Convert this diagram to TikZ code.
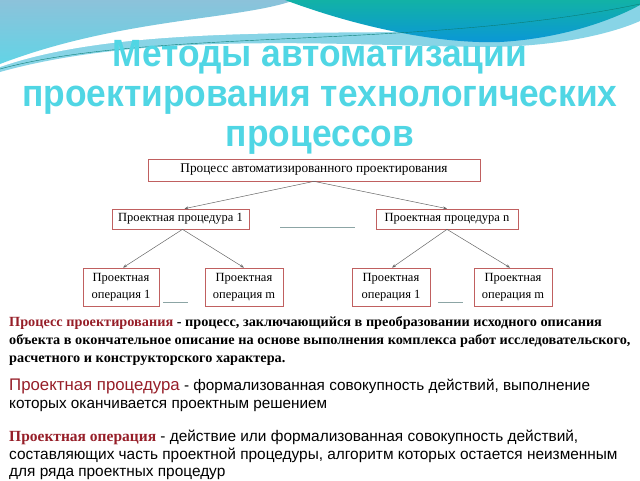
\documentclass[tikz,border=0pt]{standalone}
\usepackage{fontspec}
\setmainfont{Liberation Serif}
\newfontfamily\arial{Liberation Sans}
\newfontfamily\titlefont[FakeStretch=0.93]{Liberation Sans}
\newfontfamily\serifN[FakeStretch=1.02]{Liberation Serif}
\usetikzlibrary{shadows,arrows.meta}
\definecolor{titlecyan}{RGB}{80,214,228}
\definecolor{skytop}{RGB}{140,194,218}
\definecolor{skybot}{RGB}{98,212,230}
\definecolor{bandblue}{RGB}{136,212,230}
\definecolor{tealA}{RGB}{18,178,166}
\definecolor{tealB}{RGB}{10,150,216}
\definecolor{boxred}{RGB}{192,96,96}
\definecolor{termred}{RGB}{150,30,40}
\definecolor{sepgray}{RGB}{140,165,165}
\tikzset{
  box/.style={draw=boxred, line width=0.7pt, fill=white, inner sep=0pt,
    font=\fontsize{12.5}{16.5}\selectfont, align=center,
    drop shadow={opacity=0.25, shadow xshift=1.2pt, shadow yshift=-1.2pt}},
  link/.style={draw=gray!80!black, line width=0.5pt, -{Stealth[length=4pt,width=3pt]}},
  sep/.style={draw=sepgray, line width=0.9pt},
  para/.style={anchor=north west, inner sep=0pt, align=left}
}
\begin{document}
\begin{tikzpicture}[x=1pt,y=-1pt]
\useasboundingbox (0,0) rectangle (640,480);
% background waves
\fill[bandblue] (0,72) .. controls (150,30) and (350,46) .. (490,47) .. controls (570,46) and (620,30) .. (640,21) -- (640,0) -- (0,0) -- cycle;
\fill[white] (0,67) .. controls (100,32) and (250,33) .. (420,32) .. controls (460,33) and (480,38) .. (500,42) -- (500,0) -- (0,0) -- cycle;
\shade[top color=skytop, bottom color=skybot] (0,0) -- (295,0) .. controls (240,20) and (120,18) .. (0,64) -- cycle;
\shade[top color=tealA, bottom color=tealB] (285,0) .. controls (360,28) and (440,44) .. (500,42) .. controls (570,38) and (620,16) .. (640,5) -- (640,0) -- cycle;
\draw[tealA!70!black, line width=0.4pt] (0,69) .. controls (150,28) and (420,50) .. (640,4);
% title
\node[font=\titlefont\bfseries\fontsize{38}{40}\selectfont, text=titlecyan, align=center, inner sep=0pt] (title) at (320,97) {Методы автоматизации\\проектирования технологических\\процессов};
% diagram
\node[box, font=\fontsize{13.3}{15}\selectfont, minimum width=332, minimum height=22] (top) at (314,170) {Процесс автоматизированного проектирования};
\node[box, minimum width=137, minimum height=20] (p1) at (180.5,219) {Проектная процедура 1};
\node[box, minimum width=142, minimum height=20] (pn) at (447,219) {Проектная процедура n};
\node[box, minimum width=76, minimum height=38] (o11) at (121,287) {Проектная\\операция 1};
\node[box, minimum width=78, minimum height=38] (o1m) at (244,287) {Проектная\\операция m};
\node[box, minimum width=78, minimum height=38] (on1) at (391,287) {Проектная\\операция 1};
\node[box, minimum width=78, minimum height=38] (onm) at (513,287) {Проектная\\операция m};
\draw[link] (top.south) -- ([xshift=4]p1.north);
\draw[link] (top.south) -- (pn.north);
\draw[link] ([xshift=2]p1.south) -- ([xshift=2]o11.north);
\draw[link] ([xshift=2]p1.south) -- (o1m.north);
\draw[link] (pn.south) -- ([xshift=1]on1.north);
\draw[link] (pn.south) -- ([xshift=-3]onm.north);
\draw[sep] (280,227) -- (355,227);
\draw[sep] (163,302) -- (188,302);
\draw[sep] (438,302) -- (463,302);
% definitions
\node[para, font=\serifN\bfseries\fontsize{14}{18}\selectfont] (d1) at (9,316)
{\textcolor{termred}{Процесс проектирования} - процесс, заключающийся в преобразовании исходного описания\\
объекта в окончательное описание на основе выполнения комплекса работ исследовательского,\\
расчетного и конструкторского характера.};
\node[para, font=\arial\fontsize{15.3}{18}\selectfont] (d2) at (9,379)
{\textcolor{termred}{\fontsize{16.8}{18}\selectfont Проектная процедура} - формализованная совокупность действий, выполнение\\
которых оканчивается проектным решением};
\node[para, font=\arial\fontsize{15.4}{17.5}\selectfont] (d3) at (9,430)
{\textcolor{termred}{\rmfamily\bfseries\fontsize{15.5}{17.5}\selectfont Проектная операция} - действие или формализованная совокупность действий,\\
составляющих часть проектной процедуры, алгоритм которых остается неизменным\\
для ряда проектных процедур};
\end{tikzpicture}
\end{document}
